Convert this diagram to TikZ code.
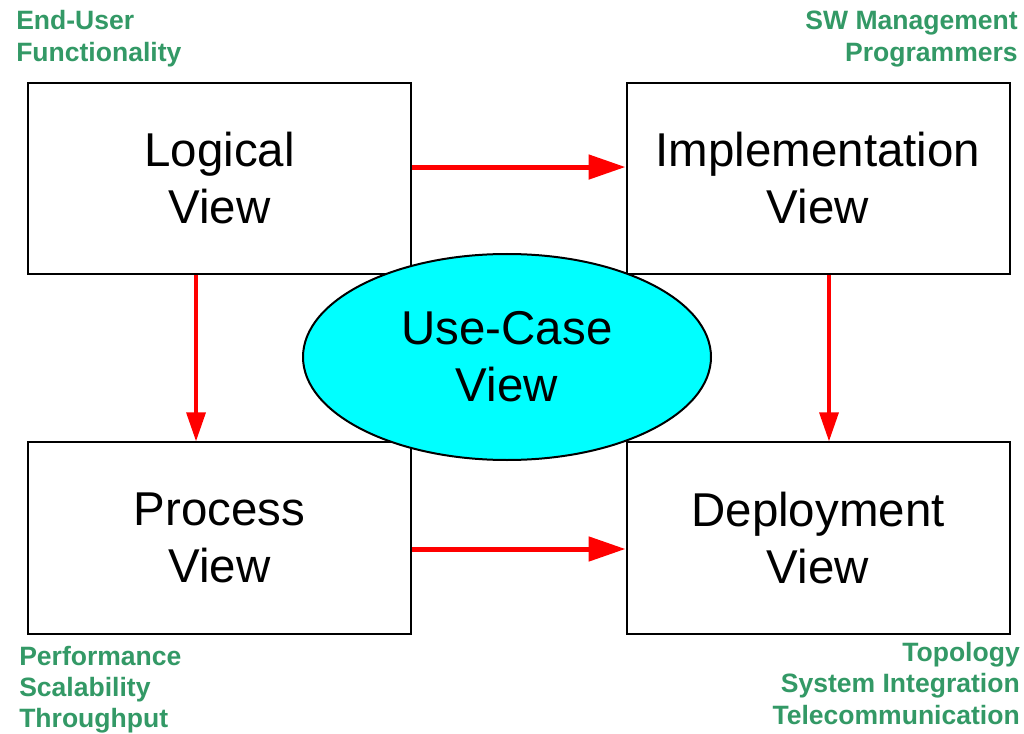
\documentclass[tikz,border=0pt]{standalone}
\usepackage{fontspec}
\setmainfont{Liberation Sans}
\usetikzlibrary{arrows.meta,shapes.geometric}
\definecolor{viewgreen}{RGB}{51,153,102}
\definecolor{arrowred}{RGB}{255,0,0}
\definecolor{usecyan}{RGB}{0,255,255}
\begin{document}
\begin{tikzpicture}[x=0.75pt,y=-0.75pt,
  viewbox/.style={draw=black,line width=1.5pt,fill=white,inner sep=0pt,
    minimum width=287.25pt,minimum height=143.5pt,align=center,
    font=\fontsize{35.6}{42.75}\selectfont},
  usecase/.style={ellipse,draw=black,line width=1.5pt,fill=usecyan,inner sep=0pt,
    minimum width=306pt,minimum height=154.5pt,align=center,
    font=\fontsize{35.6}{42.75}\selectfont},
  concern/.style={text=viewgreen,inner sep=0pt,font=\bfseries\fontsize{19.9}{24}\selectfont},
  harrow/.style={draw=arrowred,line width=3.75pt,-{Triangle[length=27.75pt,width=18pt]}},
  varrow/.style={draw=arrowred,line width=2.6pt,-{Triangle[length=21.75pt,width=14.25pt]}}]
\useasboundingbox (0,0) rectangle (1024,734);
\fill[white] (0,0) rectangle (1024,734);
\node[viewbox] (logical) at (219.5,178.5) {Logical\\View};
\node[viewbox] (impl) at (818,178.5) {Implementation\\View};
\node[viewbox] (process) at (219.5,538) {Process\\View};
\node[viewbox] (deploy) at (818,538) {Deployment\\View};
\draw[harrow] ([yshift=8.6pt]logical.east) -- ([yshift=8.6pt]impl.west);
\draw[harrow] ([yshift=-8.25pt]process.east) -- ([yshift=-8.25pt]deploy.west);
\draw[varrow] ([xshift=-17.6pt]logical.south) -- ([xshift=-17.6pt]process.north);
\draw[varrow] ([xshift=8.25pt]impl.south) -- ([xshift=8.25pt]deploy.north);
\node[usecase] (usecase) at (507,357) {Use-Case\\View};
\node[concern,anchor=base west,align=left] (enduser) at (16,62) {End-User\\Functionality};
\node[concern,anchor=base east,align=right] (swmgmt) at (1018,62) {SW Management\\Programmers};
\node[concern,anchor=base west,align=left,font=\bfseries\fontsize{19.9}{23.25}\selectfont] (perf) at (19,727) {Performance\\Scalability\\Throughput};
\node[concern,anchor=base east,align=right,font=\bfseries\fontsize{19.9}{23.6}\selectfont] (topo) at (1020,724) {Topology\\System Integration\\Telecommunication};
\end{tikzpicture}
\end{document}
